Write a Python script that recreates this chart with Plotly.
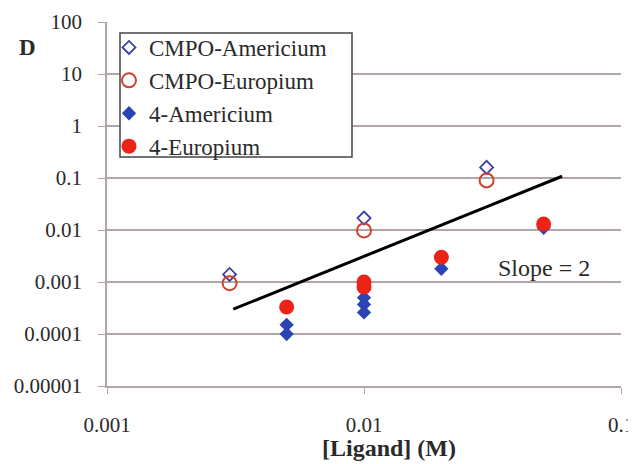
import math
import plotly.graph_objects as go

# ---- data ----
cmpo_am_x = [0.003, 0.01, 0.03, 0.1]
cmpo_am_y = [0.0014, 0.017, 0.16, 2.2]

cmpo_eu_x = [0.003, 0.01, 0.03, 0.1]
cmpo_eu_y = [0.00095, 0.0098, 0.09, 1.25]

l4_am_x = [0.005, 0.005, 0.01, 0.01, 0.01, 0.02, 0.05]
l4_am_y = [0.00015, 0.0001, 0.0005, 0.00037, 0.00026, 0.0018, 0.011]

l4_eu_x = [0.005, 0.01, 0.01, 0.02, 0.05]
l4_eu_y = [0.00033, 0.001, 0.0008, 0.003, 0.013]

slope_x = [0.0031, 0.059]
slope_y = [0.0003, 0.108]

x_tickvals = [0.001, 0.01, 0.1]
x_ticktext = ["0.001", "0.01", "0.1"]
y_tickvals = [0.00001, 0.0001, 0.001, 0.01, 0.1, 1, 10, 100]
y_ticktext = ["0.00001", "0.0001", "0.001", "0.01", "0.1", "1", "10", "100"]

SERIF = "Liberation Serif"
GRID = "#b0a6a6"
TXT = "#2a2a2a"

OFF = 8
PL, PR, PT, PB = 107, 621, 22, 386
PW, PH = PR - PL, PB - PT


def px(x):
    return (x - PL) / PW


def py(y):
    return (PB - y) / PH


fig = go.Figure()

fig.add_trace(go.Scatter(
    x=slope_x, y=slope_y, mode="lines",
    line=dict(color="black", width=3), showlegend=False, hoverinfo="skip"))

fig.add_trace(go.Scatter(
    x=cmpo_am_x, y=cmpo_am_y, mode="markers", name="CMPO-Americium",
    marker=dict(symbol="diamond-open", size=10, color="#3c3ca8",
                line=dict(width=1.8, color="#3c3ca8"))))
fig.add_trace(go.Scatter(
    x=cmpo_eu_x, y=cmpo_eu_y, mode="markers", name="CMPO-Europium",
    marker=dict(symbol="circle-open", size=14, color="#c8442e",
                line=dict(width=2, color="#c8442e"))))
fig.add_trace(go.Scatter(
    x=l4_am_x, y=l4_am_y, mode="markers", name="4-Americium",
    marker=dict(symbol="diamond", size=11, color="#2a44b4",
                line=dict(width=0))))
fig.add_trace(go.Scatter(
    x=l4_eu_x, y=l4_eu_y, mode="markers", name="4-Europium",
    marker=dict(symbol="circle", size=15, color="#ec2418",
                line=dict(width=0))))

fig.update_traces(cliponaxis=False)

fig.update_xaxes(
    type="log", range=[-3, -1], automargin=False,
    tickvals=x_tickvals, ticktext=x_ticktext,
    showgrid=False, zeroline=False,
    showline=True, linecolor=GRID, linewidth=1.5,
    ticks="outside", ticklen=6, tickcolor=GRID,
    tickfont=dict(family=SERIF, size=21, color=TXT),
    ticklabelstandoff=13,
)
fig.update_yaxes(
    type="log", range=[-5, 2], automargin=False,
    tickvals=y_tickvals, ticktext=y_ticktext,
    showgrid=True, gridcolor=GRID, gridwidth=1.5, zeroline=False,
    showline=True, linecolor=GRID, linewidth=1.5,
    ticks="outside", ticklen=7, tickcolor=GRID,
    tickfont=dict(family=SERIF, size=21, color=TXT),
    ticklabelstandoff=12,
)

fig.add_shape(type="rect", xref="paper", yref="paper",
              x0=px(120), x1=px(352), y0=py(157), y1=py(33),
              fillcolor="white", line=dict(color="#444444", width=1.5),
              layer="above")

fig.add_annotation(text="<b>D</b>", xref="paper", yref="paper",
                   x=px(27), y=py(48), xanchor="center", yanchor="middle",
                   showarrow=False, font=dict(family=SERIF, size=23, color=TXT))
fig.add_annotation(text="<b>[Ligand] (M)</b>", xref="paper", yref="paper",
                   x=px(389), y=py(448), xanchor="center", yanchor="middle",
                   showarrow=False, font=dict(family=SERIF, size=24, color=TXT))
fig.add_annotation(text="Slope = 2", xref="x", yref="y",
                   x=math.log10(0.0500), y=-2.73,
                   xanchor="center", yanchor="middle",
                   showarrow=False, font=dict(family=SERIF, size=24, color=TXT))

fig.update_layout(
    width=636 - OFF, height=464 - OFF,
    margin=dict(l=PL - OFF, r=636 - PR, t=PT - OFF, b=464 - PB),
    paper_bgcolor="white", plot_bgcolor="white",
    legend=dict(x=px(109), y=py(26),
                xanchor="left", yanchor="top",
                bgcolor="rgba(0,0,0,0)", borderwidth=0,
                font=dict(family=SERIF, size=23, color=TXT),
                itemwidth=30, tracegroupgap=0),
    showlegend=True,
)

fig.write_html("out.html")
